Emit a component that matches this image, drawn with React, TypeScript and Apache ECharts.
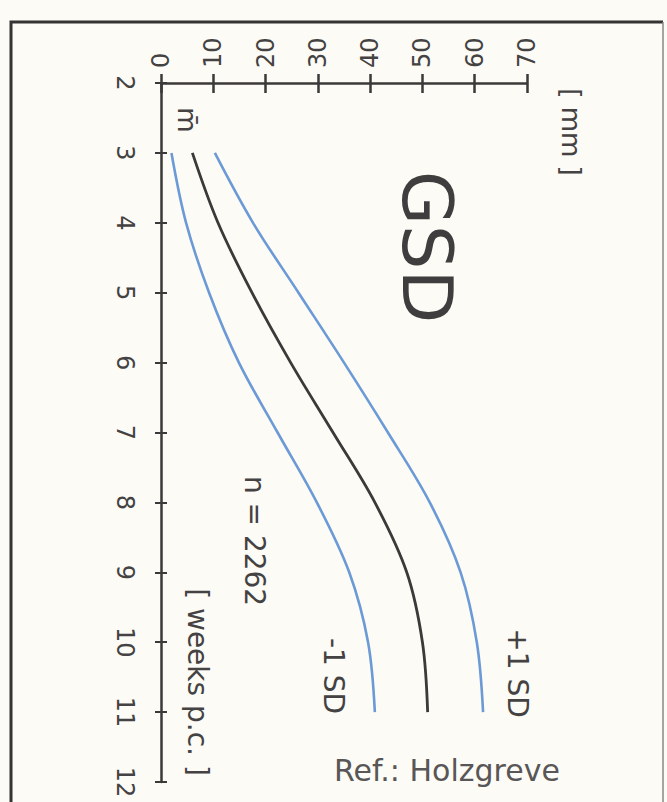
import React, { useEffect, useRef } from "react";
import * as echarts from "echarts";

// Gestational age (weeks p.c.)
const weeks = [3, 4, 5, 6, 7, 8, 9, 10, 11];
// GSD in mm
const gsdMinus1SD = [2, 4.8, 9.2, 14.9, 22.3, 29.8, 36, 39.6, 40.9];
const gsdMean = [6, 10.9, 17.4, 24.8, 32.9, 40.9, 47, 50, 51];
const gsdPlus1SD = [10.3, 17.6, 26.3, 35, 43.4, 51.4, 57.3, 60.4, 61.6];

const mmMin = 0;
const mmMax = 70;
const mmStep = 10;
const weekMin = 2;
const weekMax = 12;
const weekStep = 1;

const FONT = "DejaVu Sans";
const INK = "#3b3939";
const TEXT = "#444242";
const BLUE = "#6b9ad6";

export default function App() {
  const ref = useRef<HTMLDivElement>(null);

  useEffect(() => {
    document.body.style.margin = "0";
    const chart = echarts.init(ref.current!, null, { renderer: "svg" });
    const pairs = (vals: number[]) => weeks.map((w, i) => [vals[i], w]);
    const rot = -Math.PI / 2;

    const option: any = {
      animation: false,
      backgroundColor: "#fcfbf5",
      grid: { left: 161, top: 83, width: 366, height: 699, containLabel: false },
      xAxis: [
        {
          type: "value",
          position: "top",
          min: mmMin,
          max: mmMax,
          interval: mmStep,
          axisLine: { onZero: false, lineStyle: { color: INK, width: 2.5 } },
          axisTick: { show: true, inside: false, length: 9, lineStyle: { color: INK, width: 2.5 } },
          axisLabel: {
            rotate: -90,
            margin: 15,
            color: TEXT,
            fontFamily: FONT,
            fontSize: 24,
          },
          splitLine: { show: false },
        },
        {
          type: "value",
          position: "top",
          min: mmMin,
          max: mmMax,
          interval: mmStep,
          axisLine: { show: false },
          axisTick: { show: true, inside: true, length: 10, lineStyle: { color: INK, width: 2.5 } },
          axisLabel: { show: false },
          splitLine: { show: false },
        },
      ],
      yAxis: [
        {
          type: "value",
          position: "left",
          inverse: true,
          min: weekMin,
          max: weekMax,
          interval: weekStep,
          axisLine: { onZero: false, lineStyle: { color: INK, width: 2.5 } },
          axisTick: { show: true, inside: false, length: 6, lineStyle: { color: INK, width: 2 } },
          axisLabel: {
            rotate: -90,
            margin: 24,
            color: TEXT,
            fontFamily: FONT,
            fontSize: 24,
          },
          splitLine: { show: false },
        },
        {
          type: "value",
          position: "left",
          inverse: true,
          min: weekMin,
          max: weekMax,
          interval: weekStep,
          axisLine: { show: false },
          axisTick: { show: true, inside: true, length: 6, lineStyle: { color: INK, width: 2 } },
          axisLabel: { show: false },
          splitLine: { show: false },
        },
      ],
      series: [
        {
          name: "-1 SD",
          type: "line",
          data: pairs(gsdMinus1SD),
          smooth: 0.35,
          symbol: "none",
          lineStyle: { color: BLUE, width: 2.6 },
        },
        {
          name: "mean",
          type: "line",
          data: pairs(gsdMean),
          smooth: 0.35,
          symbol: "none",
          lineStyle: { color: INK, width: 2.8 },
        },
        {
          name: "+1 SD",
          type: "line",
          data: pairs(gsdPlus1SD),
          smooth: 0.35,
          symbol: "none",
          lineStyle: { color: BLUE, width: 2.6 },
        },
      ],
      graphic: [
        {
          type: "polyline",
          shape: { points: [[11, 802], [11, 22], [663, 22]] },
          style: { stroke: "#353333", lineWidth: 3, fill: null },
          silent: true,
        },
        {
          type: "line",
          shape: { x1: 663, y1: 22, x2: 663, y2: 802 },
          style: { stroke: "#8a8886", lineWidth: 1.5 },
          silent: true,
        },
        {
          type: "text",
          x: 427,
          y: 247,
          rotation: rot,
          style: { text: "GSD", font: `70px "${FONT}"`, fill: "#3f3d3d", textAlign: "center", textVerticalAlign: "middle" },
        },
        {
          type: "text",
          x: 571,
          y: 132,
          rotation: rot,
          style: { text: "[ mm ]", font: `26px "${FONT}"`, fill: TEXT, textAlign: "center", textVerticalAlign: "middle" },
        },
        {
          type: "text",
          x: 197,
          y: 682,
          rotation: rot,
          style: { text: "[ weeks p.c. ]", font: `28px "${FONT}"`, fill: TEXT, textAlign: "center", textVerticalAlign: "middle" },
        },
        {
          type: "text",
          x: 187,
          y: 120,
          rotation: rot,
          style: { text: "m\u0304", font: `26px "${FONT}"`, fill: TEXT, textAlign: "center", textVerticalAlign: "middle" },
        },
        {
          type: "text",
          x: 254,
          y: 541,
          rotation: rot,
          style: { text: "n = 2262", font: `28px "${FONT}"`, fill: TEXT, textAlign: "center", textVerticalAlign: "middle" },
        },
        {
          type: "text",
          x: 517,
          y: 673,
          rotation: rot,
          style: { text: "+1 SD", font: `28px "${FONT}"`, fill: TEXT, textAlign: "center", textVerticalAlign: "middle" },
        },
        {
          type: "text",
          x: 333,
          y: 676,
          rotation: rot,
          style: { text: "-1 SD", font: `28px "${FONT}"`, fill: TEXT, textAlign: "center", textVerticalAlign: "middle" },
        },
        {
          type: "text",
          x: 334,
          y: 770,
          style: { text: "Ref.: Holzgreve", font: `30px "${FONT}"`, fill: "#585656", textAlign: "left", textVerticalAlign: "middle" },
        },
      ],
    };

    chart.setOption(option);
    return () => chart.dispose();
  }, []);

  return (
    <div
      ref={ref}
      style={{ position: "fixed", left: 0, top: 0, width: 667, height: 802, background: "#fcfbf5" }}
    />
  );
}
